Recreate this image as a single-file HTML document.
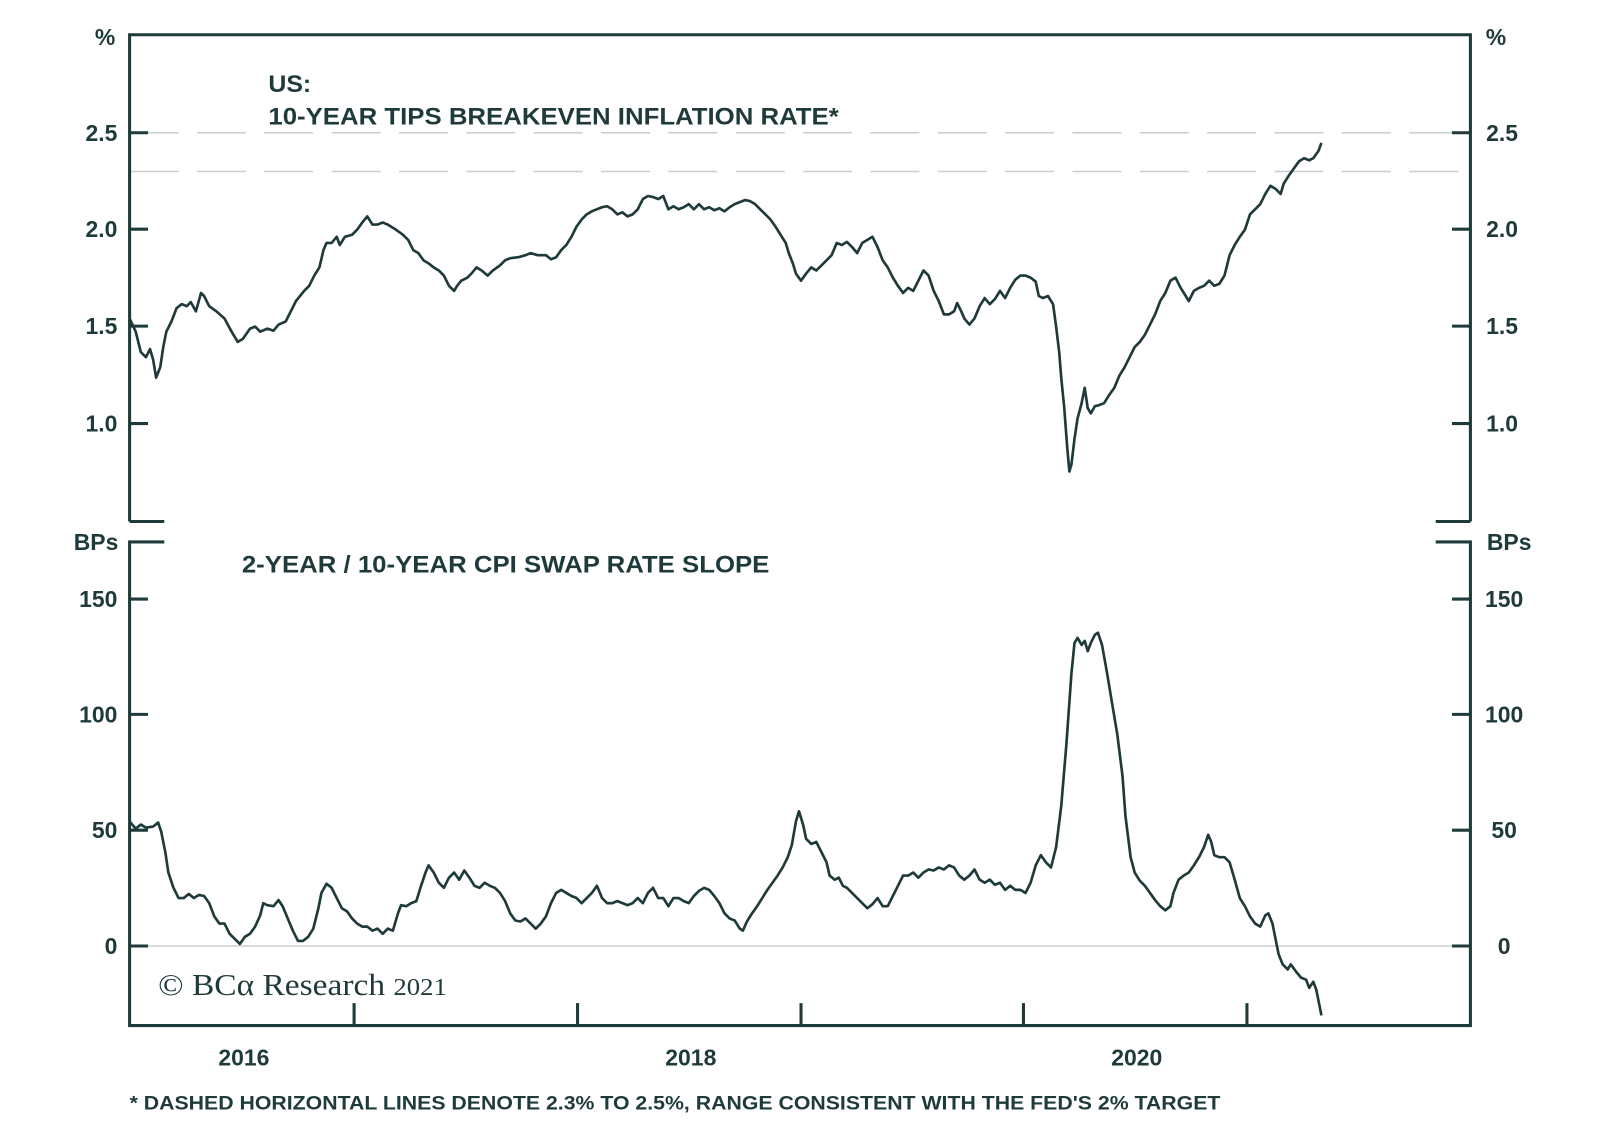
<!DOCTYPE html>
<html><head><meta charset="utf-8"><style>
html,body{margin:0;padding:0;background:#fff;}
svg{display:block;}
text{font-family:"Liberation Sans",Arial,sans-serif;font-weight:bold;fill:#1f3a3a;}
</style></head><body>
<svg width="1600" height="1142" viewBox="0 0 1568 1119" xmlns="http://www.w3.org/2000/svg">
<g stroke="#c9cdcd" stroke-width="1.5" fill="none">
<line x1="127" y1="130" x2="1441" y2="130" stroke-dasharray="48 18"/>
<line x1="127" y1="168" x2="1441" y2="168" stroke-dasharray="48 18"/>
<line x1="127" y1="927" x2="1441" y2="927"/>
</g>
<g stroke="#1f3a3a" stroke-width="3" fill="none">
<path d="M127,511 L127,34 L1441,34 L1441,511"/>
<path d="M127,511 L161,511 M1441,511 L1407,511"/>
<path d="M161,531 L127,531 L127,1005 L1441,1005 L1441,531 L1407,531"/>
<path d="M127,130h18M127,224.5h18M127,319.5h18M127,415h18M1441,130h-18M1441,224.5h-18M1441,319.5h-18M1441,415h-18"/>
<path d="M127,587h18M127,700h18M127,813.5h18M127,927h18M1441,587h-18M1441,700h-18M1441,813.5h-18M1441,927h-18"/>
<path d="M347,1005v-22M566,1005v-22M785,1005v-22M1003,1005v-22M1222,1005v-22"/>
</g>
<g stroke="#1f3a3a" stroke-width="2.6" fill="none" stroke-linejoin="round">
<polyline points="127,312 133,325 138,345 143,350 147,342 150,352 153,370 157,360 160,340 163,325 168,315 173,302 178,298 183,300 187,296 192,305 197,287 200,290 205,300 212,305 220,312 227,325 233,335 238,332 245,322 250,320 255,325 262,322 268,324 273,318 280,315 285,305 290,295 298,285 303,280 308,270 313,262 317,245 320,238 325,238 330,232 333,240 338,232 345,230 350,225 355,218 360,212 365,220 370,220 375,218 380,220 388,225 395,230 400,235 405,245 410,248 415,255 420,258 425,262 430,265 435,270 440,280 445,285 448,280 452,275 458,272 462,268 467,262 472,265 478,270 483,265 490,260 495,255 500,253 508,252 515,250 520,248 527,250 535,250 540,254 545,252 550,245 555,240 560,232 565,222 570,215 575,210 580,207 585,205 590,203 595,202 600,205 605,210 610,208 615,212 620,210 625,205 630,195 635,192 640,193 645,195 650,192 655,205 660,202 665,205 670,203 675,200 680,205 685,200 690,205 695,203 700,206 705,204 710,207 715,203 720,200 725,198 730,196 735,197 740,200 745,205 750,210 755,215 760,222 765,230 770,238 773,248 777,258 780,268 785,275 790,268 795,262 800,265 805,260 810,255 815,250 820,238 825,240 830,237 835,242 840,248 845,238 850,235 855,232 860,242 865,255 870,262 875,272 880,280 885,287 890,282 895,285 900,275 905,265 910,270 915,285 920,295 925,308 930,308 935,305 938,297 942,305 945,312 950,318 955,312 960,300 965,292 970,298 975,293 980,285 985,292 990,282 995,274 1000,270 1005,270 1010,272 1015,276 1018,290 1022,292 1027,290 1032,298 1035,320 1038,345 1040,370 1043,400 1046,440 1048,462 1050,455 1053,430 1056,410 1060,395 1063,380 1066,400 1069,405 1073,398 1077,397 1082,395 1087,387 1092,380 1097,368 1102,360 1107,350 1112,340 1117,335 1122,328 1127,318 1132,308 1137,295 1142,287 1147,275 1152,272 1157,282 1162,290 1165,295 1170,285 1175,282 1180,280 1185,275 1190,280 1195,278 1200,270 1205,250 1210,240 1215,232 1220,225 1225,210 1230,205 1235,200 1240,190 1245,182 1250,185 1255,190 1258,180 1263,172 1268,165 1273,158 1278,155 1283,157 1287,155 1292,148 1295,140"/>
<polyline points="127,805 133,812 138,808 143,811 150,810 155,806 158,815 162,835 165,855 170,870 175,880 180,880 185,876 190,880 195,877 200,878 205,885 210,898 215,905 220,905 225,915 230,920 235,925 240,918 245,915 250,908 255,897 258,885 262,887 268,888 273,882 277,888 282,900 287,912 292,922 297,922 302,918 307,910 312,890 315,875 320,866 325,870 330,880 335,890 340,893 345,900 350,905 355,908 360,908 365,912 370,910 375,915 380,910 385,912 390,895 393,887 398,888 403,885 408,883 412,870 417,855 420,848 425,855 430,865 435,870 440,860 445,855 450,862 455,853 460,860 465,868 470,870 475,865 480,868 485,870 490,875 495,883 500,895 505,902 510,903 515,900 520,905 525,910 530,905 535,898 540,885 545,875 550,872 555,875 560,878 565,880 570,885 575,880 580,875 585,868 590,880 595,885 600,885 605,883 610,885 615,887 620,885 625,880 630,885 635,875 640,870 645,880 650,880 655,888 660,880 665,880 670,883 675,885 680,878 685,873 690,870 695,872 700,878 705,885 710,895 715,900 720,902 725,910 728,912 732,903 737,895 742,888 747,880 752,872 757,865 762,858 767,850 772,840 776,828 780,805 783,795 787,808 790,822 795,827 800,825 805,835 810,845 813,858 818,862 822,860 826,868 830,870 835,875 840,880 845,885 850,890 855,886 860,880 865,888 870,888 875,878 880,868 885,858 890,858 895,855 900,860 905,855 910,852 915,853 920,850 925,852 930,848 935,850 940,858 945,862 950,858 955,852 960,862 965,865 970,862 975,867 980,865 985,872 990,868 995,872 1000,872 1005,875 1010,865 1015,848 1020,838 1025,845 1030,850 1035,830 1040,790 1045,730 1050,660 1053,630 1056,625 1060,632 1063,628 1066,638 1069,630 1073,622 1076,620 1080,632 1085,660 1090,690 1095,720 1100,760 1103,800 1108,840 1112,855 1117,863 1122,868 1127,875 1132,882 1137,888 1142,892 1147,888 1150,875 1155,862 1160,858 1165,855 1170,848 1175,840 1180,830 1184,818 1187,825 1190,838 1195,840 1200,840 1205,845 1210,862 1215,880 1220,888 1225,898 1230,905 1235,908 1240,897 1243,895 1247,905 1250,920 1253,935 1257,945 1262,950 1265,945 1270,952 1275,958 1280,960 1283,968 1287,962 1290,970 1295,995"/>
</g>
<g font-size="22.5">
<text x="103" y="44" text-anchor="middle">%</text>
<text x="1466" y="44" text-anchor="middle">%</text>
<g text-anchor="end">
<text x="115" y="138">2.5</text><text x="115" y="232">2.0</text><text x="115" y="327">1.5</text><text x="115" y="423">1.0</text>
<text x="116" y="539">BPs</text>
<text x="115" y="595">150</text><text x="115" y="708">100</text><text x="115" y="821">50</text><text x="115" y="935">0</text>
</g>
<g text-anchor="middle">
<text x="1472" y="138">2.5</text><text x="1472" y="232">2.0</text><text x="1472" y="327">1.5</text><text x="1472" y="423">1.0</text>
<text x="1479" y="539">BPs</text>
<text x="1474" y="595">150</text><text x="1474" y="708">100</text><text x="1474" y="821">50</text><text x="1474" y="935">0</text>
<text x="239" y="1044">2016</text><text x="677" y="1044">2018</text><text x="1114" y="1044">2020</text>
</g>
</g>
<g font-size="24">
<text x="263" y="90" textLength="42" lengthAdjust="spacingAndGlyphs">US:</text>
<text x="263" y="122" textLength="559" lengthAdjust="spacingAndGlyphs">10-YEAR TIPS BREAKEVEN INFLATION RATE*</text>
<text x="237" y="561" textLength="517" lengthAdjust="spacingAndGlyphs">2-YEAR / 10-YEAR CPI SWAP RATE SLOPE</text>
</g>
<text x="127" y="1087" font-size="19" textLength="1069" lengthAdjust="spacingAndGlyphs">* DASHED HORIZONTAL LINES DENOTE 2.3% TO 2.5%, RANGE CONSISTENT WITH THE FED'S 2% TARGET</text>
<text x="155" y="975" font-size="30" textLength="283" lengthAdjust="spacingAndGlyphs" style="font-family:'Liberation Serif',serif;font-weight:normal">© BCα Research <tspan font-size="24">2021</tspan></text>
</svg>
</body></html>
